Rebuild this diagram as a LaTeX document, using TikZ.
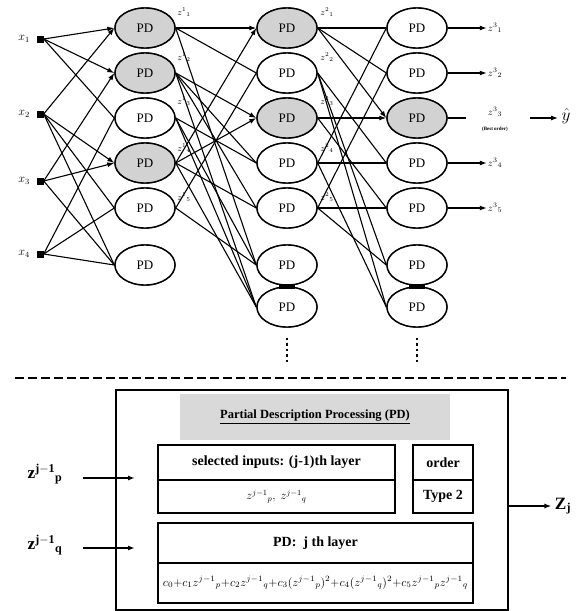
\documentclass[tikz,border=0pt]{standalone}
\usepackage{fontspec}
\setmainfont{Liberation Serif}
\usepackage{amsmath}
\usetikzlibrary{shapes.geometric,arrows.meta,positioning}

\begin{document}
\begin{tikzpicture}[x=1pt,y=-1pt,
  pd/.style={draw,line width=1.4pt,ellipse,minimum width=60pt,minimum height=40pt,inner sep=0pt,fill=white,
    font=\fontsize{13}{15}\selectfont},
  pdsel/.style={pd,fill=gray!35},
  inp/.style={fill=black,minimum size=7pt,inner sep=0pt},
  zlab/.style={font=\small,inner sep=1pt},
  link/.style={line width=1.1pt},
  arr/.style={-{Latex[length=7pt,width=5pt]}},
  vdots/.style={line width=2.2pt,dash pattern=on 2.5pt off 3pt},
  cell/.style={draw,line width=1.6pt,inner sep=0pt,font=\fontsize{14}{16}\selectfont\bfseries}
]
\useasboundingbox (0,0) rectangle (581,611);

% inputs
\foreach \i/\y in {1/39,2/114,3/181,4/254}{
  \node[inp] (x\i) at (40,\y) {};
  \node[left=3pt of x\i,font=\large] (xl\i) {$x_\i$};
}

% layer 1
\foreach \i/\y/\s in {1/28/pdsel,2/73/pdsel,3/118/pd,4/163/pdsel,5/208/pd,6/265/pd}
  \node[\s] (L1-\i) at (145,\y) {PD};

% layer 2 and 3
\foreach \i/\y/\s/\t in {1/28/pdsel/pd,2/73/pd/pd,3/118/pdsel/pdsel,4/163/pd/pd,5/208/pd/pd,6/265/pd/pd,7/307/pd/pd}{
  \node[\s] (L2-\i) at (287,\y) {PD};
  \node[\t] (L3-\i) at (417,\y) {PD};
}

% input -> layer 1
\foreach \a/\b in {1/1,2/1,1/2,3/2,2/4,3/4}
  \draw[link,arr] (x\a.east) -- (L1-\b.west);
\foreach \a/\b in {1/3,4/3,4/5,2/5,3/6,4/6,2/6}
  \draw[link] (x\a.east) -- (L1-\b.west);

% layer 1 -> layer 2
\foreach \a/\b in {1/1,4/1,2/3,4/3}
  \draw[link,arr] (L1-\a.east) -- (L2-\b.west);
\foreach \a/\b in {1/2,5/2,2/4,3/4,2/5,4/5,1/6,3/6,5/6,2/7,3/7,4/7}
  \draw[link] (L1-\a.east) -- (L2-\b.west);

% layer 2 -> layer 3
\foreach \a/\b in {1/3,3/3}
  \draw[link,arr] (L2-\a.east) -- (L3-\b.west);
\foreach \a/\b in {1/1,4/1,1/2,5/2,4/4,2/4,5/5,3/5,2/6,5/6,2/7,4/7}
  \draw[link] (L2-\a.east) -- (L3-\b.west);

% redraw nodes on top of lines
\foreach \i/\y/\s in {1/28/pdsel,2/73/pdsel,3/118/pd,4/163/pdsel,5/208/pd,6/265/pd}
  \node[\s] at (145,\y) {PD};
\foreach \i/\y/\s/\t in {1/28/pdsel/pd,2/73/pd/pd,3/118/pdsel/pdsel,4/163/pd/pd,5/208/pd/pd,6/265/pd/pd,7/307/pd/pd}{
  \node[\s] at (287,\y) {PD};
  \node[\t] at (417,\y) {PD};
}
\fill (279,284) rectangle (295,289);
\fill (409,284) rectangle (425,289);

% output labels of layer 1 and 2
\foreach \i/\y in {1/12,2/57,3/101,4/148,5/197}{
  \node[zlab] (z1-\i) at (184,\y) {$z^1{}_\i$};
  \node[zlab] (z2-\i) at (327,\y) {$z^2{}_\i$};
}

% layer 3 outputs
\foreach \i/\y in {1/28,2/73,4/163,5/208}{
  \node[zlab,font=\normalsize] (z3-\i) at (495,\y) {$z^3{}_\i$};
  \draw[link,arr] (L3-\i.east) -- (z3-\i.west);
}
\node[zlab,font=\normalsize] (z3-3) at (495,112) {$z^3{}_3$};
\node[font=\tiny\bfseries,inner sep=0pt] (best) at (495,129) {(Best order)};
\draw[link] (L3-3.east) -- ++(18,0) coordinate (l3end);
\node[font=\LARGE] (yhat) at (566,116) {$\hat{y}$};
\coordinate (yfrom) at (530,118);
\draw[link,arr] (yfrom) -- (yhat.west |- yfrom);

% dots below layers 2 and 3
\draw[vdots] (L2-7.south) ++(0,10) -- ++(0,24);
\draw[vdots] (L3-7.south) ++(0,10) -- ++(0,24);

% separator
\draw[line width=1.8pt,dash pattern=on 9pt off 4pt] (15,378) -- (566,378);

% PD processing box
\node[draw,line width=1.6pt,minimum width=392pt,minimum height=220pt,inner sep=0pt] (pdbox) at (312,500) {};
\node[fill=gray!30,minimum width=270pt,minimum height=46pt] (title) at (315,417)
  {\fontsize{12.5}{14}\selectfont\bfseries\underline{Partial Description Processing (PD)}};
\node[cell,minimum width=237pt,minimum height=35pt] (sel) at (276.5,462.5) {selected inputs: (j-1)th layer};
\node[cell,minimum width=237pt,minimum height=33pt,font=\large] (selz) at (276.5,496.5) {$z^{j-1}{}_p,\ z^{j-1}{}_q$};
\node[cell,minimum width=60pt,minimum height=35pt] (order) at (443,462.5) {order};
\node[cell,minimum width=60pt,minimum height=33pt] (type) at (443,496.5) {Type 2};
\node[cell,minimum width=315pt,minimum height=40pt] (layer) at (315.5,543) {PD:\ \ j th layer};
\node[cell,minimum width=315pt,minimum height=40pt,font=\normalfont] (formula) at (315.5,583)
  {\resizebox{305pt}{!}{$c_0{+}c_1z^{j-1}{}_p{+}c_2z^{j-1}{}_q{+}c_3(z^{j-1}{}_p)^2{+}c_4(z^{j-1}{}_q)^2{+}c_5z^{j-1}{}_pz^{j-1}{}_q$}};

% inputs and output of the PD box
\node[font=\LARGE] (zp) at (45,474) {$\mathbf{z}^{\mathbf{j-1}}{}_{\mathbf{p}}$};
\node[font=\LARGE] (zq) at (45,545) {$\mathbf{z}^{\mathbf{j-1}}{}_{\mathbf{q}}$};
\coordinate (zpin) at (135,478);
\coordinate (zqin) at (135,548);
\coordinate (zpout) at (83,478);
\coordinate (zqout) at (83,548);
\draw[line width=1.4pt,arr] (zpout) -- (zpin);
\draw[line width=1.4pt,arr] (zqout) -- (zqin);
\node[font=\LARGE] (zj) at (563,506) {$\mathbf{Z}_{\mathbf{j}}$};
\draw[line width=1.4pt,arr] (pdbox.east |- zj) -- (zj.west);
\end{tikzpicture}
\end{document}
